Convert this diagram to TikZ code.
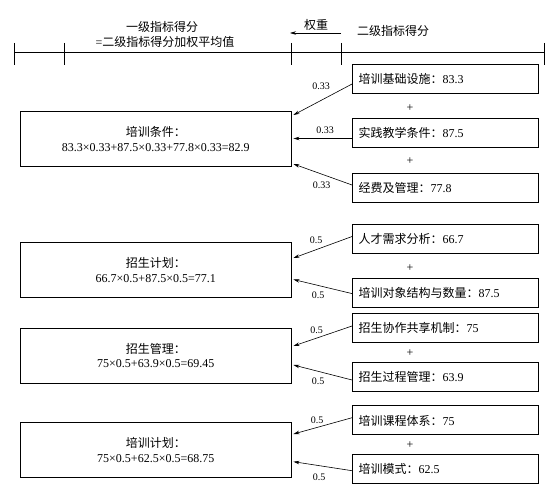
\documentclass[tikz,border=0pt]{standalone}
\usepackage{fontspec}
\setmainfont{Liberation Serif}
\newfontfamily\cjk{Noto Sans CJK SC}
\usetikzlibrary{calc,arrows.meta}
\begin{document}
\begin{tikzpicture}[x=1pt,y=-1pt,
  rbox/.style={draw,line width=0.9pt,minimum height=29pt,text width=174pt,inner xsep=6pt,inner ysep=0pt,align=left,font=\fontsize{12}{14}\selectfont},
  lbox/.style={draw,line width=0.9pt,minimum width=271.5pt,minimum height=55pt,inner sep=0pt,align=center,font=\fontsize{12}{14.5}\selectfont},
  arr/.style={-{Stealth[length=6pt,width=3.5pt]},line width=0.6pt},
  wt/.style={font=\fontsize{10}{12}\selectfont,inner sep=0pt},
  plus/.style={font=\fontsize{12}{14}\selectfont,inner sep=0pt},
  hdr/.style={font=\fontsize{12}{14}\selectfont,inner sep=0pt},
  tick/.style={line width=1pt}]
\useasboundingbox (0,0) rectangle (554,487);

% header
\coordinate (h0) at (14,53);
\coordinate (h1) at (64,53);
\coordinate (h2) at (291,53);
\coordinate (h3) at (341,53);
\coordinate (h4) at (544,53);
\draw[line width=1pt] (h0) -- (h4);
\foreach \c in {h0,h1,h2,h3,h4} \draw[tick] ($(\c)+(0,-10)$) -- ($(\c)+(0,12)$);
\node[hdr] (t1) at (162,26.5) {\cjk 一级指标得分};
\node[hdr] (t2) at (165,42) {=\cjk 二级指标得分加权平均值};
\node[hdr] (tw) at (316,25) {\cjk 权重};
\node[hdr] (t3) at (393,31) {\cjk 二级指标得分};
\coordinate (aw0) at (341,33);
\coordinate (aw1) at (290,33);
\draw[arr] (aw0) -- (aw1);

% group 1
\node[rbox] (a1) at (445.5,78.75) {{\cjk 培训基础设施：}83.3};
\node[rbox] (b1) at (445.5,133) {{\cjk 实践教学条件：}87.5};
\node[rbox] (c1) at (445.5,187.5) {{\cjk 经费及管理：}77.8};
\node[plus] (p1a) at (410,108.5) {+};
\node[plus] (p1b) at (410,161.5) {+};
\node[lbox] (l1) at (155.75,139) {{\cjk 培训条件：}\\83.3×0.33+87.5×0.33+77.8×0.33=82.9};
\draw[arr] ($(a1.west)+(0,5.25)$) -- ($(l1.east)+(1.5,-24)$);
\draw[arr] ($(b1.west)+(0,5.5)$) -- ($(l1.east)+(1.5,-0.5)$);
\draw[arr] ($(c1.west)+(0,-2.5)$) -- ($(l1.east)+(1.5,25)$);
\node[wt] (w1a) at (321,86.5) {0.33};
\node[wt] (w1b) at (325,130.7) {0.33};
\node[wt] (w1c) at (321.5,185.5) {0.33};

% group 2
\node[rbox] (a2) at (445.5,238.5) {{\cjk 人才需求分析：}66.7};
\node[rbox] (b2) at (445.5,293) {{\cjk 培训对象结构与数量：}87.5};
\node[plus] (p2) at (410,268) {+};
\node[lbox] (l2) at (155.75,270) {{\cjk 招生计划：}\\66.7×0.5+87.5×0.5=77.1};
\draw[arr] ($(a2.west)+(0,-2)$) -- ($(l2.east)+(1.5,-12)$);
\draw[arr] ($(b2.west)+(0,0.6)$) -- ($(l2.east)+(1.5,9.5)$);
\node[wt] (w2a) at (316,240.6) {0.5};
\node[wt] (w2b) at (318,295) {0.5};

% group 3
\node[rbox] (a3) at (445.5,328) {{\cjk 招生协作共享机制：}75};
\node[rbox] (b3) at (445.5,377.4) {{\cjk 招生过程管理：}63.9};
\node[plus] (p3) at (410,353) {+};
\node[lbox] (l3) at (155.75,355.5) {{\cjk 招生管理：}\\75×0.5+63.9×0.5=69.45};
\draw[arr] ($(a3.west)+(0,-2)$) -- ($(l3.east)+(1.5,-9.5)$);
\draw[arr] ($(b3.west)+(0,2.6)$) -- ($(l3.east)+(1.5,9.5)$);
\node[wt] (w3a) at (316.7,330) {0.5};
\node[wt] (w3b) at (318,381.7) {0.5};

% group 4
\node[rbox] (a4) at (445.5,420.4) {{\cjk 培训课程体系：}75};
\node[rbox] (b4) at (445.5,469.4) {{\cjk 培训模式：}62.5};
\node[plus] (p4) at (410,445) {+};
\node[lbox] (l4) at (155.75,450) {{\cjk 培训计划：}\\75×0.5+62.5×0.5=68.75};
\draw[arr] ($(a4.west)+(0,-2.7)$) -- ($(l4.east)+(1.5,-16)$);
\draw[arr] ($(b4.west)+(0,1.3)$) -- ($(l4.east)+(1.5,11.7)$);
\node[wt] (w4a) at (317,420) {0.5};
\node[wt] (w4b) at (319,477) {0.5};
\end{tikzpicture}
\end{document}
